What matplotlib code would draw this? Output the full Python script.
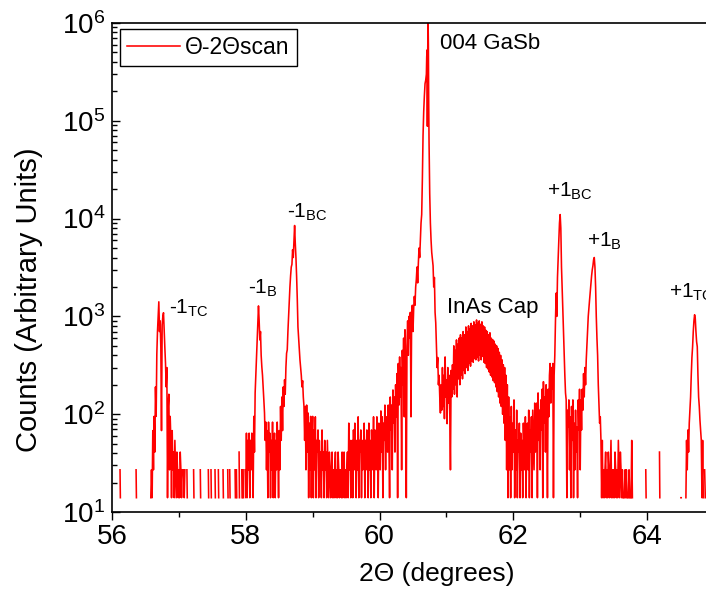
import numpy as np
import matplotlib
matplotlib.use('Agg')
import matplotlib.pyplot as plt
from matplotlib.ticker import LogLocator, MultipleLocator, NullFormatter

plt.rcParams['font.family'] = ['Liberation Sans', 'DejaVu Sans']
plt.rcParams['mathtext.fontset'] = 'custom'
plt.rcParams['mathtext.rm'] = 'Liberation Sans'
plt.rcParams['mathtext.it'] = 'Liberation Sans:italic'
plt.rcParams['mathtext.bf'] = 'Liberation Sans:bold'

# ---- scan data, 2theta (deg) and counts, region by region ----
# 0 counts are not drawn on the log axis (gaps)
bg_left_2theta = [56.00, 56.11, 56.12, 56.125, 56.35, 56.36, 56.365, 56.57]
bg_left_counts = [0, 0, 27, 14, 0, 27, 14, 0]

m1tc_2theta = [56.58, 56.59, 56.60, 56.61, 56.62, 56.63, 56.64, 56.65, 56.66, 56.67,
               56.68, 56.69, 56.70, 56.71, 56.72, 56.73, 56.74, 56.75, 56.76, 56.77,
               56.78, 56.79, 56.80, 56.81, 56.82, 56.83, 56.84, 56.85, 56.86, 56.87,
               56.88, 56.89, 56.90, 56.91, 56.92, 56.93, 56.94, 56.95, 56.96, 56.97,
               56.98, 56.99, 57.00, 57.01, 57.02, 57.03, 57.04, 57.05, 57.06, 57.07,
               57.08, 57.09, 57.10]
m1tc_counts = [14, 27, 14, 68, 27, 95, 41, 190, 95, 410,
               700, 1000, 1410, 700, 900, 480, 68, 820, 1000, 1090,
               700, 480, 330, 190, 300, 14, 120, 160, 27, 95,
               54, 14, 68, 27, 41, 14, 54, 27, 14, 41,
               27, 14, 27, 14, 41, 27, 14, 27, 0, 27,
               14, 27, 0]

gap_left_2theta = [57.12, 57.125, 57.13, 57.22, 57.225, 57.23, 57.32, 57.325, 57.33,
                   57.44, 57.445, 57.45, 57.48, 57.485, 57.49, 57.54, 57.545, 57.55,
                   57.59, 57.595, 57.60, 57.66, 57.665, 57.67, 57.73, 57.735, 57.74,
                   57.76, 57.765, 57.77, 57.84, 57.845, 57.85, 57.86, 57.865, 57.87,
                   57.90, 57.905, 57.91, 57.94, 57.945, 57.95, 57.96, 57.965, 57.97]
gap_left_counts = [27, 14, 0, 27, 14, 0, 27, 14, 0,
                   27, 14, 0, 27, 14, 0, 27, 14, 0,
                   27, 14, 0, 27, 14, 0, 27, 14, 0,
                   27, 14, 0, 27, 14, 0, 27, 14, 0,
                   41, 14, 0, 27, 14, 0, 27, 14, 0]

m1b_m1bc_2theta = [57.98, 57.99, 58.00, 58.01, 58.02, 58.03, 58.04, 58.05, 58.06, 58.07,
                   58.08, 58.09, 58.10, 58.11, 58.12, 58.13, 58.14, 58.15, 58.16, 58.17,
                   58.18, 58.19, 58.20, 58.21, 58.22, 58.23, 58.24, 58.25, 58.26, 58.27,
                   58.28, 58.29, 58.30, 58.31, 58.32, 58.33, 58.34, 58.35, 58.36, 58.37,
                   58.38, 58.39, 58.40, 58.41, 58.42, 58.43, 58.44, 58.45, 58.46, 58.47,
                   58.48, 58.49, 58.50, 58.51, 58.52, 58.53, 58.54, 58.55, 58.56, 58.57,
                   58.58, 58.59, 58.60, 58.61, 58.62, 58.63, 58.64, 58.65, 58.66, 58.67,
                   58.68, 58.69, 58.70, 58.71, 58.72, 58.73, 58.74, 58.75, 58.76, 58.77,
                   58.78, 58.79, 58.80, 58.81, 58.82, 58.83, 58.84, 58.85, 58.86, 58.87,
                   58.88, 58.89, 58.90, 58.91, 58.92, 58.93, 58.94, 58.95, 58.96, 58.97,
                   58.98, 58.99]
m1b_m1bc_counts = [0, 27, 14, 64, 14, 54, 27, 64, 14, 54,
                   27, 64, 41, 14, 95, 41, 165, 250, 360, 600,
                   920, 1280, 900, 575, 700, 400, 305, 250, 190, 140,
                   103, 54, 83, 27, 68, 14, 83, 41, 64, 14,
                   54, 27, 83, 14, 41, 64, 14, 54, 27, 83,
                   41, 14, 68, 27, 120, 54, 150, 68, 190, 120,
                   225, 160, 300, 420, 455, 700, 1000, 1480, 2000, 2600,
                   3200, 3400, 4800, 4000, 6000, 8500, 5600, 4000, 2560, 1500,
                   780, 600, 450, 360, 300, 250, 190, 220, 150, 120,
                   54, 120, 27, 124, 41, 103, 14, 81, 27, 95,
                   14, 54]

mid_2theta = [59.00, 59.01, 59.02, 59.03, 59.04, 59.05, 59.06, 59.07, 59.08, 59.09,
              59.10, 59.11, 59.12, 59.13, 59.14, 59.15, 59.16, 59.17, 59.18, 59.19,
              59.20, 59.21, 59.22, 59.23, 59.24, 59.25, 59.26, 59.27, 59.28, 59.29,
              59.30, 59.31, 59.32, 59.33, 59.34, 59.35, 59.36, 59.37, 59.38, 59.39,
              59.40, 59.41, 59.42, 59.43, 59.44, 59.45, 59.46, 59.47, 59.48, 59.49,
              59.50, 59.51, 59.52, 59.53, 59.54, 59.55, 59.56, 59.57, 59.58, 59.59,
              59.60, 59.61, 59.62, 59.63, 59.64, 59.65, 59.66, 59.67, 59.68, 59.69,
              59.70, 59.71, 59.72, 59.73, 59.74, 59.75, 59.76, 59.77, 59.78, 59.79,
              59.80, 59.81, 59.82, 59.83, 59.84, 59.85, 59.86, 59.87, 59.88, 59.89,
              59.90, 59.91, 59.92, 59.93, 59.94, 59.95, 59.96, 59.97, 59.98, 59.99,
              60.00, 60.01, 60.02, 60.03, 60.04, 60.05, 60.06, 60.07, 60.08, 60.09,
              60.10, 60.11, 60.12, 60.13, 60.14, 60.15, 60.16, 60.17, 60.18, 60.19,
              60.20, 60.21, 60.22, 60.23, 60.24, 60.25, 60.26, 60.27, 60.28, 60.29,
              60.30, 60.31, 60.32, 60.33, 60.34, 60.35, 60.36, 60.37, 60.38, 60.39]
mid_counts = [95, 14, 69, 27, 94, 14, 54, 41, 69, 14,
              54, 27, 41, 14, 69, 27, 41, 14, 54, 27,
              41, 14, 54, 27, 14, 41, 27, 14, 27, 41,
              14, 27, 14, 27, 41, 14, 27, 14, 41, 27,
              14, 27, 27, 14, 41, 14, 27, 41, 14, 27,
              14, 27, 41, 14, 81, 27, 54, 14, 41, 54,
              14, 69, 27, 81, 41, 14, 54, 27, 94, 14,
              54, 41, 69, 14, 54, 27, 41, 81, 14, 54,
              27, 69, 41, 14, 81, 27, 54, 14, 69, 41,
              27, 94, 14, 69, 54, 27, 94, 41, 14, 81,
              54, 27, 108, 41, 94, 14, 81, 54, 124, 27,
              94, 69, 41, 124, 54, 14, 150, 69, 124, 27,
              177, 81, 150, 41, 200, 94, 260, 14, 330, 124,
              385, 150, 300, 27, 450, 200, 600, 94, 730, 300]

main_2theta = [60.40, 60.41, 60.42, 60.43, 60.44, 60.45, 60.46, 60.47, 60.48, 60.49,
               60.50, 60.51, 60.52, 60.53, 60.54, 60.55, 60.56, 60.57, 60.58, 60.59,
               60.60, 60.61, 60.62, 60.63, 60.64, 60.65, 60.66, 60.67, 60.68, 60.69,
               60.70, 60.705, 60.71, 60.715, 60.72, 60.725, 60.73, 60.735, 60.74, 60.75,
               60.76, 60.77, 60.78, 60.79, 60.80, 60.81, 60.82, 60.83, 60.84, 60.85,
               60.86, 60.87, 60.88, 60.89, 60.90, 60.91, 60.92, 60.93]
main_counts = [14, 500, 900, 400, 1000, 600, 1100, 94, 1000, 1300,
               700, 1200, 1600, 1300, 2000, 2400, 3200, 2200, 3500, 5000,
               4000, 6000, 9000, 11000, 25000, 70000, 124000, 180000, 240000, 260000,
               300000, 450000, 530000, 88000, 500000, 1100000, 600000, 150000, 60000, 18000,
               9000, 6000, 4500, 3800, 3300, 2000, 2500, 1100, 860, 490,
               300, 380, 200, 250, 150, 103, 200, 110]

cap_2theta = [60.94, 60.95, 60.96, 60.97, 60.98, 60.99, 61.00, 61.01, 61.02, 61.03,
              61.04, 61.05, 61.06, 61.07, 61.08, 61.09, 61.10, 61.11, 61.12, 61.13,
              61.14, 61.15, 61.16, 61.17, 61.18, 61.19, 61.20, 61.21, 61.22, 61.23,
              61.24, 61.25, 61.26, 61.27, 61.28, 61.29, 61.30, 61.31, 61.32, 61.33,
              61.34, 61.35, 61.36, 61.37, 61.38, 61.39, 61.40, 61.41, 61.42, 61.43,
              61.44, 61.45, 61.46, 61.47, 61.48, 61.49, 61.50, 61.51, 61.52, 61.53,
              61.54, 61.55, 61.56, 61.57, 61.58, 61.59, 61.60, 61.61, 61.62, 61.63,
              61.64, 61.65, 61.66, 61.67, 61.68, 61.69, 61.70, 61.71, 61.72, 61.73,
              61.74, 61.75, 61.76, 61.77, 61.78, 61.79, 61.80, 61.81, 61.82, 61.83,
              61.84, 61.85, 61.86, 61.87, 61.88, 61.89, 61.90, 61.91, 61.92, 61.93,
              61.94]
cap_counts = [300, 120, 250, 90, 385, 150, 225, 80, 300, 130,
              250, 100, 27, 280, 150, 320, 180, 500, 160, 450,
              200, 575, 150, 520, 230, 600, 200, 650, 250, 600,
              230, 700, 280, 650, 260, 780, 300, 700, 280, 800,
              330, 750, 310, 850, 350, 800, 340, 880, 370, 820,
              360, 920, 380, 850, 350, 900, 400, 830, 360, 880,
              390, 800, 340, 780, 330, 720, 300, 700, 290, 650,
              270, 680, 250, 600, 240, 580, 220, 560, 210, 520,
              190, 500, 170, 470, 150, 430, 130, 400, 120, 360,
              100, 320, 81, 300, 54, 250, 27, 200, 14, 150,
              27]

right_2theta = [61.95, 61.96, 61.97, 61.98, 61.99, 62.00, 62.01, 62.02, 62.03, 62.04,
                62.05, 62.06, 62.07, 62.08, 62.09, 62.10, 62.11, 62.12, 62.13, 62.14,
                62.15, 62.16, 62.17, 62.18, 62.19, 62.20, 62.21, 62.22, 62.23, 62.24,
                62.25, 62.26, 62.27, 62.28, 62.29, 62.30, 62.31, 62.32, 62.33, 62.34,
                62.35, 62.36, 62.37, 62.38, 62.39, 62.40, 62.41, 62.42, 62.43, 62.44,
                62.45, 62.46, 62.47, 62.48, 62.49, 62.50, 62.51, 62.52, 62.53, 62.54]
right_counts = [94, 14, 120, 27, 81, 41, 140, 14, 69, 27,
                110, 14, 54, 41, 81, 14, 64, 27, 54, 14,
                81, 41, 27, 94, 14, 54, 81, 27, 110, 14,
                69, 41, 94, 14, 110, 54, 27, 130, 41, 81,
                130, 14, 165, 54, 110, 27, 140, 69, 180, 14,
                215, 81, 150, 41, 200, 110, 14, 180, 94, 250]

p1bc_2theta = [62.55, 62.56, 62.57, 62.58, 62.59, 62.60, 62.61, 62.62, 62.63, 62.64,
               62.65, 62.66, 62.67, 62.68, 62.69, 62.70, 62.71, 62.72, 62.73, 62.74,
               62.75, 62.76, 62.77, 62.78, 62.79, 62.80, 62.81, 62.82, 62.83, 62.84,
               62.85, 62.86, 62.87, 62.88, 62.89, 62.90, 62.91, 62.92, 62.93, 62.94,
               62.95, 62.96, 62.97, 62.98, 62.99]
p1bc_counts = [330, 130, 300, 180, 330, 14, 250, 400, 900, 1730,
               1000, 2500, 4000, 6000, 9000, 11000, 8000, 3200, 2000, 1170,
               700, 385, 250, 165, 140, 14, 110, 74, 140, 27,
               94, 14, 120, 54, 140, 14, 81, 27, 110, 41,
               74, 14, 140, 69, 180]

p1b_2theta = [63.00, 63.01, 63.02, 63.03, 63.04, 63.05, 63.06, 63.07, 63.08, 63.09,
              63.10, 63.11, 63.12, 63.13, 63.14, 63.15, 63.16, 63.17, 63.18, 63.19,
              63.20, 63.21, 63.22, 63.23, 63.24, 63.25, 63.26, 63.27, 63.28, 63.29,
              63.30, 63.31, 63.32]
p1b_counts = [27, 140, 69, 180, 110, 260, 150, 300, 200, 360,
              500, 700, 1000, 1200, 1480, 1800, 2200, 2600, 3000, 3300,
              3800, 4000, 3200, 2000, 1000, 600, 400, 200, 130, 81,
              94, 54, 14]

bg_right_2theta = [63.33, 63.34, 63.35, 63.36, 63.37, 63.38, 63.39, 63.40, 63.41, 63.42,
                   63.43, 63.44, 63.45, 63.46, 63.47, 63.48, 63.49, 63.50, 63.51, 63.52,
                   63.53, 63.54, 63.55, 63.56, 63.57, 63.58, 63.59, 63.60, 63.61, 63.62,
                   63.63, 63.64, 63.65, 63.66, 63.67, 63.68, 63.69, 63.70, 63.71, 63.72,
                   63.73, 63.74, 63.75, 63.76, 63.77, 63.78, 63.79,
                   63.97, 63.98, 63.985, 63.99, 64.18, 64.185, 64.19, 64.20,
                   64.50, 64.505, 64.51, 64.52, 64.57]
bg_right_counts = [54, 14, 27, 14, 27, 41, 14, 27, 14, 41,
                   27, 14, 27, 54, 14, 27, 14, 27, 14, 41,
                   27, 14, 27, 14, 54, 27, 14, 41, 27, 14,
                   27, 14, 0, 14, 27, 14, 27, 14, 0, 14,
                   27, 14, 0, 14, 54, 14, 0,
                   0, 27, 14, 0, 0, 41, 14, 0,
                   0, 14, 14, 0, 0]

p1tc_2theta = [64.58, 64.59, 64.60, 64.61, 64.62, 64.63, 64.64, 64.65, 64.66, 64.67,
               64.68, 64.69, 64.70, 64.71, 64.72, 64.73, 64.74, 64.75, 64.76, 64.77,
               64.78, 64.79, 64.80, 64.81, 64.82, 64.83, 64.84, 64.85, 64.86, 64.87,
               64.88, 65.00]
p1tc_counts = [14, 54, 27, 69, 41, 81, 110, 150, 250, 380,
               490, 700, 900, 1040, 950, 700, 550, 490, 250, 150,
               120, 87, 69, 54, 14, 54, 14, 0, 27, 14,
               0, 0]

# peak labels: text, 2theta and counts at the text baseline, font size
peak_labels = ['-1$_{\\mathregular{TC}}$', '-1$_{\\mathregular{B}}$', '-1$_{\\mathregular{BC}}$',
               '004 GaSb', 'InAs Cap',
               '+1$_{\\mathregular{BC}}$', '+1$_{\\mathregular{B}}$', '+1$_{\\mathregular{TC}}$']
label_2theta = [56.847, 58.04, 58.62, 60.903, 61.003, 62.497, 63.094, 64.33]
label_counts = [1065, 1700, 10200, 5.36e5, 1082, 16900, 5190, 1540]
label_sizes = [15, 15, 15, 16, 16, 15, 15, 15]


def build_scan():
    x = np.concatenate([bg_left_2theta, m1tc_2theta, gap_left_2theta, m1b_m1bc_2theta,
                        mid_2theta, main_2theta, cap_2theta, right_2theta, p1bc_2theta,
                        p1b_2theta, bg_right_2theta, p1tc_2theta]).astype(float)
    y = np.concatenate([bg_left_counts, m1tc_counts, gap_left_counts, m1b_m1bc_counts,
                        mid_counts, main_counts, cap_counts, right_counts, p1bc_counts,
                        p1b_counts, bg_right_counts, p1tc_counts]).astype(float)
    y[y <= 0] = np.nan  # zero counts leave gaps on the log axis
    return x, y


def plot_scan():
    two_theta, counts = build_scan()

    fig = plt.figure(figsize=(7.06, 5.93), dpi=100)
    # right edge of the axes sits just outside the picture, as in the original crop
    ax = fig.add_axes([112 / 706, 81 / 593, 602 / 706, 489 / 593])

    ax.plot(two_theta, counts, color='#ff0000', linewidth=1.15, label='Θ-2Θscan')

    ax.set_yscale('log')
    ax.set_xlim(56, 65)
    ax.set_ylim(10, 1e6)

    ax.xaxis.set_major_locator(MultipleLocator(2))
    ax.xaxis.set_minor_locator(MultipleLocator(1))
    ax.yaxis.set_major_locator(LogLocator(base=10, numticks=10))
    ax.yaxis.set_minor_locator(LogLocator(base=10, subs=np.arange(2, 10), numticks=20))
    ax.yaxis.set_minor_formatter(NullFormatter())

    ax.tick_params(axis='x', which='major', direction='out', length=6, width=1, labelsize=20, pad=3)
    ax.tick_params(axis='x', which='minor', direction='out', length=3.5, width=1)
    ax.tick_params(axis='y', which='major', direction='in', length=6, width=1, labelsize=20, pad=5)
    ax.tick_params(axis='y', which='minor', direction='in', length=3.5, width=1)
    for side in ['left', 'bottom', 'top', 'right']:
        ax.spines[side].set_linewidth(1.2)

    ax.set_xlabel('2Θ (degrees)', fontsize=19)
    ax.xaxis.set_label_coords((437 - 112) / 602, (512 - 574) / 489)
    ax.xaxis.label.set_va('center')
    ax.set_ylabel('Counts (Arbitrary Units)', fontsize=21)
    ax.yaxis.set_label_coords((29 - 112) / 602, (512 - 300) / 489)
    ax.yaxis.label.set_va('center')

    for txt, tx, ty, fs in zip(peak_labels, label_2theta, label_counts, label_sizes):
        ax.text(tx, ty, txt, fontsize=fs, ha='left', va='baseline', clip_on=False)

    leg = ax.legend(loc='upper left', bbox_to_anchor=(8 / 602, 1 - 6 / 489), borderaxespad=0,
                    fontsize=16.5, handlelength=2.3, handletextpad=0.25, borderpad=0.3,
                    fancybox=False, framealpha=1, edgecolor='black')
    leg.get_frame().set_linewidth(1.0)

    fig.savefig('out.png', dpi=100)


if __name__ == "__main__":
    plot_scan()
